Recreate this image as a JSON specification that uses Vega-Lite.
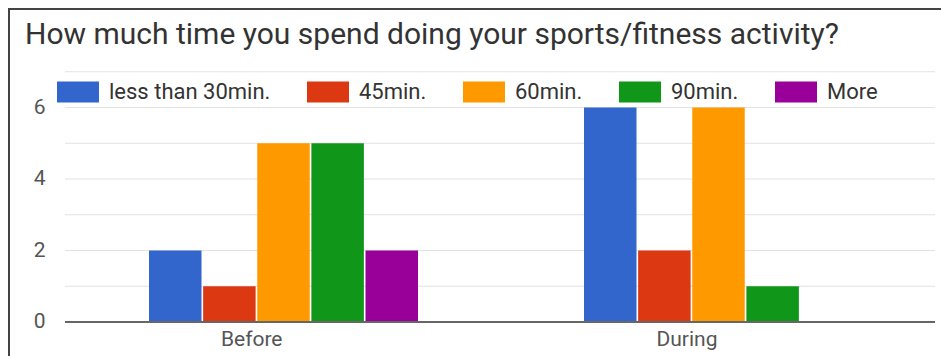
{
  "$schema": "https://vega.github.io/schema/vega-lite/v6.json",
  "width": 940,
  "height": 360,
  "padding": {"left": 9, "top": 9, "right": 0, "bottom": 0},
  "autosize": {"type": "none"},
  "background": "white",
  "title": {
    "text": "How much time you spend doing your sports/fitness activity?",
    "anchor": "start",
    "frame": "group",
    "orient": "top",
    "offset": -65,
    "baseline": "alphabetic",
    "dx": 16,
    "font": "Roboto",
    "fontSize": 30,
    "fontWeight": "normal",
    "color": "#333333",
    "limit": 0
  },
  "config": {
    "view": {"stroke": "#444444", "strokeWidth": 2},
    "font": "Roboto"
  },
  "datasets": {
    "responses": [
      {"period": "Before", "duration": "less than 30min.", "count": 2},
      {"period": "Before", "duration": "45min.", "count": 1},
      {"period": "Before", "duration": "60min.", "count": 5},
      {"period": "Before", "duration": "90min.", "count": 5},
      {"period": "Before", "duration": "More", "count": 2},
      {"period": "During", "duration": "less than 30min.", "count": 6},
      {"period": "During", "duration": "45min.", "count": 2},
      {"period": "During", "duration": "60min.", "count": 6},
      {"period": "During", "duration": "90min.", "count": 1},
      {"period": "During", "duration": "More", "count": 0}
    ],
    "gridlines": [
      {"count": 1}, {"count": 2}, {"count": 3}, {"count": 4}, {"count": 5}, {"count": 6}, {"count": 7}
    ],
    "baseline": [{"count": 0}]
  },
  "layer": [
    {
      "data": {"name": "gridlines"},
      "mark": {"type": "rule", "color": "#e2e2e2", "strokeWidth": 1},
      "encoding": {
        "y": {
          "field": "count",
          "type": "quantitative",
          "scale": {"domain": [-1.315, 8.755], "nice": false, "zero": false},
          "axis": {
            "title": null,
            "values": [0, 2, 4, 6],
            "grid": false,
            "domain": false,
            "ticks": false,
            "offset": -36,
            "labelPadding": 0,
            "labelFont": "Roboto",
            "labelFontSize": 21,
            "labelColor": "#555555"
          }
        },
        "x": {"datum": "Before", "type": "nominal", "bandPosition": 0},
        "x2": {"datum": "During", "bandPosition": 1}
      }
    },
    {
      "data": {"name": "responses"},
      "mark": {"type": "bar"},
      "encoding": {
        "x": {
          "field": "period",
          "type": "nominal",
          "sort": ["Before", "During"],
          "scale": {"paddingInner": 0, "paddingOuter": 0.08046, "align": 0.8},
          "axis": {
            "title": null,
            "labelAngle": 0,
            "domain": false,
            "ticks": false,
            "grid": false,
            "orient": "bottom",
            "offset": -30,
            "labelPadding": 0,
            "labelFont": "Roboto",
            "labelFontSize": 21,
            "labelColor": "#555555"
          }
        },
        "xOffset": {
          "field": "duration",
          "type": "nominal",
          "sort": ["less than 30min.", "45min.", "60min.", "90min.", "More"],
          "scale": {"range": [84, 353], "paddingInner": 0.03, "paddingOuter": 0}
        },
        "y": {
          "field": "count",
          "type": "quantitative"
        },
        "color": {
          "field": "duration",
          "type": "nominal",
          "sort": ["less than 30min.", "45min.", "60min.", "90min.", "More"],
          "scale": {
            "domain": ["less than 30min.", "45min.", "60min.", "90min.", "More"],
            "range": ["#3366cc", "#dc3912", "#ff9900", "#109618", "#990099"]
          },
          "legend": {
            "title": null,
            "orient": "none",
            "direction": "horizontal",
            "columns": 5,
            "legendX": 48,
            "legendY": 62,
            "padding": 0,
            "symbolType": "M-1,-0.5H1V0.5H-1Z",
            "symbolSize": 1764,
            "symbolStrokeWidth": 0,
            "symbolOpacity": 1,
            "labelFont": "Roboto",
            "labelFontSize": 22,
            "labelLimit": 400,
            "labelColor": "#333333",
            "labelOffset": 10,
            "columnPadding": 36,
            "gridAlign": "none"
          }
        }
      }
    },
    {
      "data": {"name": "baseline"},
      "mark": {"type": "rule", "color": "#666666", "strokeWidth": 2},
      "encoding": {
        "y": {"field": "count", "type": "quantitative"},
        "x": {"datum": "Before", "type": "nominal", "bandPosition": 0},
        "x2": {"datum": "During", "bandPosition": 1}
      }
    }
  ]
}
